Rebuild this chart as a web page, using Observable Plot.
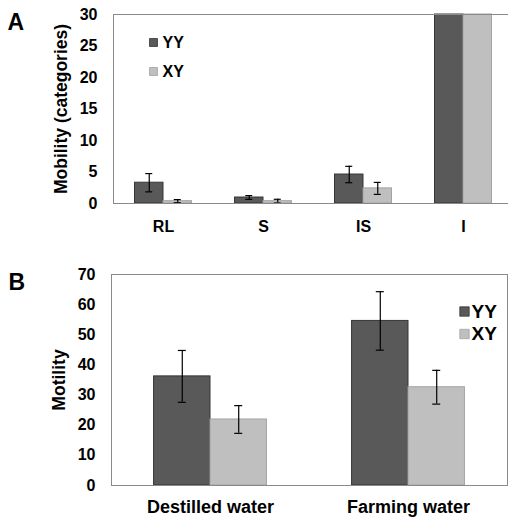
<!DOCTYPE html>
<html>
<head>
<meta charset="utf-8">
<script src="https://cdn.jsdelivr.net/npm/d3@7"></script>
<script src="https://cdn.jsdelivr.net/npm/@observablehq/plot@0.6"></script>
<style>
  html, body { margin: 0; padding: 0; background: #fff; overflow: hidden; }
  #wrap { width: 508px; height: 517px; position: relative; }
  #wrap svg { display: block; }
</style>
</head>
<body>
<div id="wrap"></div>
<script>
// ---- Panel A data ----
const catsA = ["RL", "S", "IS", "I"];
const yyA = [3.3, 0.95, 4.6, 30];
const yyAErr = [1.45, 0.3, 1.3, null];
const xyA = [0.37, 0.37, 2.4, 30];
const xyAErr = [0.25, 0.3, 0.95, null];
const ticksA = [0, 5, 10, 15, 20, 25, 30];
const labelA = "Mobility (categories)";

// ---- Panel B data ----
const catsB = ["Destilled water", "Farming water"];
const yyB = [36.2, 54.6];
const yyBErr = [8.6, 9.7];
const xyB = [21.9, 32.6];
const xyBErr = [4.6, 5.6];
const ticksB = [0, 10, 20, 30, 40, 50, 60, 70];
const labelB = "Motility";

const series = ["YY", "XY"];
const colors = {YY: {fill: "#595959", stroke: "#363636"}, XY: {fill: "#bfbfbf", stroke: "#a3a3a3"}};
const FONT = "'Liberation Sans', Arial, Helvetica, sans-serif";

function rows(cats, vals, errs) {
  return cats.map((c, i) => ({cat: c, v: vals[i], e: errs[i]}));
}

function panel(o) {
  const yy = rows(o.cats, o.yy, o.yyErr);
  const xy = rows(o.cats, o.xy, o.xyErr);
  const band = (o.range[1] - o.range[0]) / o.cats.length;
  const barW = band * o.groupFrac / 2;
  const half = band / 2;
  const capIn = (band - o.cap) / 2;
  const errMarks = (data, dx) => {
    const d = data.filter(r => r.e != null && r.e > 0);
    return [
      Plot.ruleX(d, {x: "cat", y1: r => r.v - r.e, y2: r => r.v + r.e, dx, stroke: "#000", strokeWidth: 1.2}),
      Plot.tickY(d, {x: "cat", y: r => r.v + r.e, dx, insetLeft: capIn, insetRight: capIn, stroke: "#000", strokeWidth: 1.2}),
      Plot.tickY(d, {x: "cat", y: r => r.v - r.e, dx, insetLeft: capIn, insetRight: capIn, stroke: "#000", strokeWidth: 1.2})
    ];
  };
  return Plot.plot({
    width: 508,
    height: o.height,
    marginTop: o.mt,
    marginBottom: o.mb,
    marginLeft: o.range[0],
    marginRight: o.mr,
    style: {fontFamily: FONT, fontWeight: "bold", fontSize: "16px", color: "#000", background: "#fff"},
    x: {domain: o.cats, range: o.range, padding: 0},
    y: {domain: o.ydomain},
    marks: [
      Plot.barY(yy, {x: "cat", y: "v", insetLeft: half - barW, insetRight: half, fill: colors.YY.fill, stroke: colors.YY.stroke, strokeWidth: 1}),
      Plot.barY(xy, {x: "cat", y: "v", insetLeft: half, insetRight: half - barW, fill: colors.XY.fill, stroke: colors.XY.stroke, strokeWidth: 1}),
      ...errMarks(yy, -barW / 2),
      ...errMarks(xy, barW / 2),
      Plot.frame({stroke: "#8a8a8a", strokeWidth: 1}),
      Plot.axisY({ticks: o.ticks, tickSize: 0, tickPadding: o.ytp, label: null, fontSize: 16, fontWeight: "bold"}),
      Plot.axisX({tickSize: 0, tickPadding: o.xtp, label: null, fontSize: o.xfs, fontWeight: "bold"}),
      Plot.text([o.label], {text: d => d, frameAnchor: "left", dx: o.labelDx, rotate: -90, textAnchor: "middle", lineAnchor: "middle", fontSize: 17.5, fontWeight: "bold"}),
      Plot.text([o.letter], {text: d => d, frameAnchor: "top-left", dx: o.letterDx, dy: -1, textAnchor: "start", lineAnchor: "top", fontSize: 23, fontWeight: "bold"}),
      ...series.map((s, i) => Plot.dot([s], {frameAnchor: "top-left", dx: o.legX, dy: o.legY[i], symbol: "square", r: o.legR, fill: colors[s].fill, stroke: colors[s].stroke, strokeWidth: 0.8})),
      ...series.map((s, i) => Plot.text([s], {text: d => d, frameAnchor: "top-left", dx: o.legX + o.legGap, dy: o.legY[i], textAnchor: "start", lineAnchor: "middle", fontSize: o.legFs, fontWeight: "bold"}))
    ]
  });
}

const wrap = document.getElementById("wrap");
wrap.append(panel({
  cats: catsA, yy: yyA, yyErr: yyAErr, xy: xyA, xyErr: xyAErr, ticks: ticksA, ydomain: [0, 30],
  height: 245, mt: 14, mb: 42, mr: -1, range: [113, 513], groupFrac: 0.57, cap: 7,
  ytp: 16, xtp: 17, xfs: 16, label: labelA, labelDx: -52, letter: "A", letterDx: -106,
  legX: 40, legY: [28, 57], legR: 4.5, legGap: 9, legFs: 16
}));
wrap.append(panel({
  cats: catsB, yy: yyB, yyErr: yyBErr, xy: xyB, xyErr: xyBErr, ticks: ticksB, ydomain: [0, 70],
  height: 272, mt: 29, mb: 32, mr: 1, range: [111, 507], groupFrac: 0.57, cap: 8,
  ytp: 16, xtp: 15, xfs: 18, label: labelB, labelDx: -52, letter: "B", letterDx: -103,
  legX: 353, legY: [37, 59.5], legR: 5.3, legGap: 7, legFs: 19
}));
</script>
</body>
</html>
